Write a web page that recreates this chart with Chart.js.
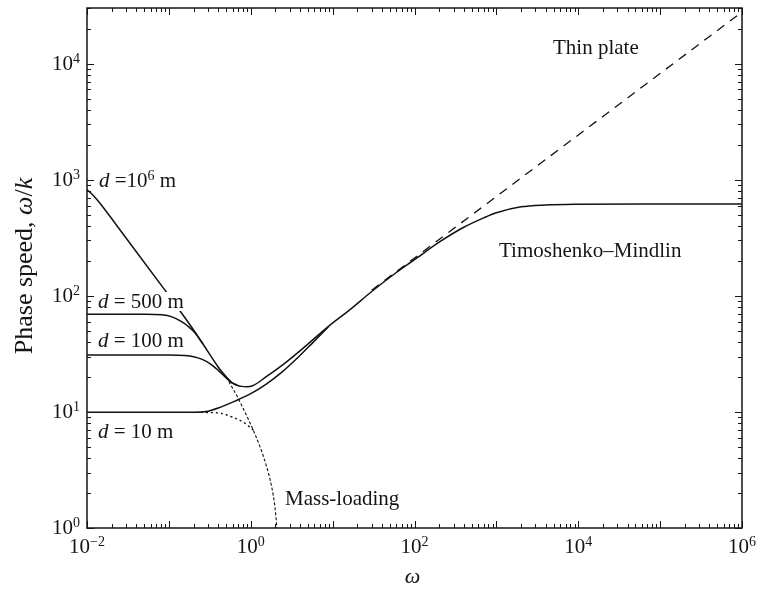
<!DOCTYPE html>
<html>
<head>
<meta charset="utf-8">
<script src="https://cdn.jsdelivr.net/npm/chart.js@4.4.1/dist/chart.umd.min.js"></script>
<style>
  html, body { margin: 0; padding: 0; background: #ffffff; }
  #wrap { width: 758px; height: 589px; }
</style>
</head>
<body>
<div id="wrap"><canvas id="c" width="758" height="589"></canvas></div>
<script>
// ---- Data (omega, phase speed) ----
// deep-water branch: d = 10^6 m curve continuing into the Timoshenko–Mindlin curve
const omegaDeep = [0.01, 0.0112, 0.0125, 0.0144, 0.03, 0.0895, 0.129, 0.208, 0.30, 0.40, 0.46, 0.52, 0.589, 0.68, 0.775, 0.9, 1.034, 1.563, 2.5, 3.99, 8.83, 16.3, 30, 60, 100, 200, 400, 700, 1000, 2000, 4000, 10000, 100000, 1000000];
const speedDeep = [820, 765, 707, 627, 315, 112, 78.5, 48.9, 33.1, 24.4, 21.5, 19.5, 17.9, 17.0, 16.6, 16.5, 16.7, 20.2, 25.7, 33.6, 54.4, 76, 109, 159, 205, 290, 390, 470, 520, 585, 607, 616, 620, 620];

const omegaD500 = [0.01, 0.05, 0.0824, 0.109, 0.143, 0.175, 0.208, 0.26];
const speedD500 = [69.5, 69.4, 68.6, 65.9, 60.0, 54.1, 48.1, 38.6];

const omegaD100 = [0.01, 0.1, 0.157, 0.2, 0.251, 0.32, 0.401, 0.46, 0.52, 0.589, 0.68];
const speedD100 = [31.0, 31.0, 30.6, 29.9, 28.5, 26.0, 22.8, 20.8, 19.2, 17.8, 17.0];

const omegaD10 = [0.01, 0.2, 0.3, 0.401, 0.641, 1.026, 1.563, 2.4, 3.63, 5.5, 8.83];
const speedD10 = [9.94, 9.94, 10.15, 10.8, 12.4, 14.5, 17.45, 22.0, 28.7, 38.4, 54.0];

const omegaD10Mass = [0.25, 0.421, 0.641, 0.81, 1.07];
const speedD10Mass = [9.92, 9.75, 8.83, 8.17, 7.0];

const omegaMass = [0.46, 0.52, 0.589, 0.68, 0.775, 0.9, 1.026, 1.295, 1.563, 1.80, 1.97, 2.07, 2.08];
const speedMass = [21.5, 19.0, 16.4, 13.7, 11.4, 9.15, 7.49, 5.02, 3.38, 2.27, 1.53, 1.06, 1.0];

const omegaThin = [30, 1000000];
const speedThin = [112, 27900];

const xTickExps = [-2, 0, 2, 4, 6];
const yTickExps = [0, 1, 2, 3, 4];
const xRange = [0.01, 1000000];
const yRange = [1, 30200];

const annotations = [
  { parts: [['d', true], [' =10', false], ['6', false, true], [' m', false]], x: 99, y: 186.5 },
  { parts: [['d', true], [' = 500 m', false]], x: 98, y: 308, mask: true },
  { parts: [['d', true], [' = 100 m', false]], x: 98, y: 346.5 },
  { parts: [['d', true], [' = 10 m', false]], x: 98, y: 438 },
  { parts: [['Thin plate', false]], x: 553, y: 54 },
  { parts: [['Timoshenko\u2013Mindlin', false]], x: 499, y: 257 },
  { parts: [['Mass-loading', false]], x: 285, y: 505 }
];

// ---- helpers ----
const pts = (xs, ys) => xs.map((v, i) => ({ x: v, y: ys[i] }));
const FONT = '"Liberation Serif", "Times New Roman", serif';

function lineDS(label, xs, ys, extra) {
  return Object.assign({
    label, data: pts(xs, ys), borderColor: '#111', borderWidth: 1.5,
    pointRadius: 0, fill: false, cubicInterpolationMode: 'monotone'
  }, extra || {});
}

function partsWidth(ctx, parts, size) {
  let w = 0;
  for (const [txt, ital, sup] of parts) {
    const fs = sup ? Math.round(size * 0.65) : size;
    ctx.font = (ital ? 'italic ' : '') + fs + 'px ' + FONT;
    w += ctx.measureText(txt).width;
  }
  return w;
}

function drawParts(ctx, parts, x, y, size) {
  let cx = x;
  for (const p of parts) {
    const [txt, ital, sup] = p;
    const fs = sup ? Math.round(size * 0.65) : size;
    ctx.font = (ital ? 'italic ' : '') + fs + 'px ' + FONT;
    ctx.fillText(txt, cx, sup ? y - 7 : y);
    cx += ctx.measureText(txt).width;
  }
}

function powLabel(ctx, exp, x, y, align) {
  const base = '10';
  const sup = exp < 0 ? '\u2212' + Math.abs(exp) : String(exp);
  ctx.font = '21px ' + FONT;
  const wb = ctx.measureText(base).width;
  ctx.font = '14px ' + FONT;
  const ws = ctx.measureText(sup).width;
  const total = wb + ws;
  const start = align === 'center' ? x - total / 2 : x - total;
  ctx.font = '21px ' + FONT;
  ctx.fillText(base, start, y);
  ctx.font = '14px ' + FONT;
  ctx.fillText(sup, start + wb, y - 7);
}

const decor = {
  id: 'decor',
  afterDraw(chart) {
    const ctx = chart.ctx, xs = chart.scales.x, ys = chart.scales.y, a = chart.chartArea;
    ctx.save();
    ctx.strokeStyle = '#151515';
    ctx.fillStyle = '#151515';
    ctx.lineWidth = 1.5;
    ctx.strokeRect(a.left, a.top, a.right - a.left, a.bottom - a.top);
    ctx.lineWidth = 1;
    ctx.beginPath();
    for (let e = -2; e <= 6; e++) {
      for (let m = 1; m < 10; m++) {
        const v = m * Math.pow(10, e);
        if (v < xRange[0] * 0.999 || v > xRange[1] * 1.001) continue;
        const px = Math.round(xs.getPixelForValue(v)) + 0.5;
        const len = m === 1 ? 7 : 4;
        ctx.moveTo(px, a.bottom); ctx.lineTo(px, a.bottom - len);
        ctx.moveTo(px, a.top); ctx.lineTo(px, a.top + len);
      }
    }
    for (let e = 0; e <= 5; e++) {
      for (let m = 1; m < 10; m++) {
        const v = m * Math.pow(10, e);
        if (v < yRange[0] * 0.999 || v > yRange[1]) continue;
        const py = Math.round(ys.getPixelForValue(v)) + 0.5;
        const len = m === 1 ? 7 : 4;
        ctx.moveTo(a.left, py); ctx.lineTo(a.left + len, py);
        ctx.moveTo(a.right, py); ctx.lineTo(a.right - len, py);
      }
    }
    ctx.stroke();

    ctx.textBaseline = 'alphabetic';
    ctx.textAlign = 'left';
    for (const e of xTickExps) {
      powLabel(ctx, e, xs.getPixelForValue(Math.pow(10, e)), 553, 'center');
    }
    for (const e of yTickExps) {
      powLabel(ctx, e, 80, ys.getPixelForValue(Math.pow(10, e)) + 6, 'right');
    }

    // axis titles
    ctx.font = 'italic 22px ' + FONT;
    ctx.textAlign = 'center';
    ctx.fillText('\u03c9', (a.left + a.right) / 2 - 2, 583);
    ctx.textAlign = 'left';

    const titleParts = [['Phase speed, ', false], ['\u03c9', true], ['/', false], ['k', true]];
    const tw = partsWidth(ctx, titleParts, 26);
    ctx.save();
    ctx.translate(32, 266 + tw / 2);
    ctx.rotate(-Math.PI / 2);
    drawParts(ctx, titleParts, 0, 0, 26);
    ctx.restore();

    for (const an of annotations) {
      if (an.mask) {
        const w = partsWidth(ctx, an.parts, 21);
        ctx.save();
        ctx.fillStyle = '#ffffff';
        ctx.fillRect(an.x - 2, an.y - 16, w + 4, 19);
        ctx.restore();
      }
      drawParts(ctx, an.parts, an.x, an.y, 21);
    }
    ctx.restore();
  }
};

new Chart(document.getElementById('c'), {
  type: 'line',
  data: {
    datasets: [
      lineDS('Mass-loading', omegaMass, speedMass, { borderDash: [3, 2], borderWidth: 1.1 }),
      lineDS('d = 10 m mass-loading', omegaD10Mass, speedD10Mass, { borderDash: [1, 4], borderWidth: 1.4, borderCapStyle: 'round' }),
      lineDS('Thin plate', omegaThin, speedThin, { borderDash: [9, 7], borderWidth: 1.3, cubicInterpolationMode: 'default', tension: 0 }),
      lineDS('d = 10^6 m / Timoshenko–Mindlin', omegaDeep, speedDeep),
      lineDS('d = 500 m', omegaD500, speedD500),
      lineDS('d = 100 m', omegaD100, speedD100),
      lineDS('d = 10 m', omegaD10, speedD10)
    ]
  },
  options: {
    responsive: false,
    devicePixelRatio: 1,
    animation: false,
    layout: { padding: { left: 87, top: 8, right: 16, bottom: 61 } },
    plugins: { legend: { display: false }, tooltip: { enabled: false }, title: { display: false } },
    scales: {
      x: { type: 'logarithmic', min: xRange[0], max: xRange[1], display: false },
      y: { type: 'logarithmic', min: yRange[0], max: yRange[1], display: false }
    }
  },
  plugins: [decor]
});
</script>
</body>
</html>
